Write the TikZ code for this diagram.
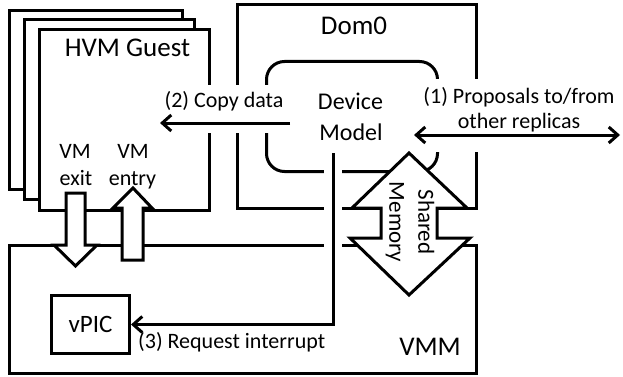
\documentclass[tikz,border=0pt]{standalone}
\usepackage{fontspec}
\setmainfont{Carlito}
\usetikzlibrary{arrows.meta}
\tikzset{
  bx/.style={draw, line width=3pt, fill=white, inner sep=0pt, anchor=north west},
  ln/.style={line width=3pt},
  barb/.style={-{Straight Barb[length=9pt,width=16pt]}},
  dbarb/.style={{Straight Barb[length=9pt,width=16pt]}-{Straight Barb[length=9pt,width=16pt]}},
  lbl/.style={font=\fontsize{22}{25}\selectfont, inner sep=0pt},
  ttl/.style={font=\fontsize{27}{30}\selectfont, inner sep=0pt, anchor=base},
  dmtxt/.style={font=\fontsize{24}{30}\selectfont, inner sep=0pt, anchor=base},
  blk/.style={draw, line width=3pt, fill=white, line join=miter},
}
\begin{document}
\begin{tikzpicture}[x=1pt,y=-1pt]
\useasboundingbox (0,0) rectangle (623,377);
% guest stack
\node[bx, minimum width=173pt, minimum height=179pt] (g1) at (8,9) {};
\node[bx, minimum width=170pt, minimum height=180pt] (g2) at (23,18) {};
\node[bx, minimum width=170pt, minimum height=181pt] (g3) at (38,28) {};
% Dom0, device model, VMM
\node[bx, minimum width=239pt, minimum height=204pt] (dom0) at (236,3) {};
\node[bx, rounded corners=18pt, minimum width=171pt, minimum height=110pt] (dm) at (265,60) {};
\node[bx, minimum width=467pt, minimum height=128pt] (vmm) at (8,244) {};
% labels with white backgrounds
\node[lbl, fill=white, anchor=base, inner xsep=6pt] (cdlbl) at (224,108)
  {\rule[-25pt]{0pt}{48pt}(2) Copy data};
\node[lbl, fill=white, anchor=north, align=center, inner xsep=4pt] (prlbl) at (519,79)
  {\rule{0pt}{24pt}(1) Proposals to/from\\other replicas\rule[-24pt]{0pt}{24pt}};
% copy data and proposals arrows
\coordinate (cdA) at (290,123);
\coordinate (cdB) at (160,123);
\draw[ln, barb] (cdA) -- (cdB);
\coordinate (prA) at (414,135);
\coordinate (prB) at (620,135);
\draw[ln, dbarb] (prA) -- (prB);
% vPIC and interrupt line
\node[bx, minimum width=78pt, minimum height=58pt, font=\fontsize{25}{28}\selectfont] (vpic) at (50,294) {vPIC};
\coordinate (irqtop) at (333,153);
\draw[white, line width=18pt] (irqtop) -- (irqtop |- vpic.east);
\draw[ln, barb] (irqtop) |- (vpic.east);
% VM exit / entry block arrows
\draw[blk] (66,193) -- (85,193) -- (85,245) -- (97,245) -- (75.5,266) -- (54,245) -- (66,245) -- cycle;
\draw[blk] (122,260) -- (143,260) -- (143,208) -- (152,208) -- (133,188) -- (113,208) -- (122,208) -- cycle;
% shared memory double block arrow
\draw[blk] (409,153) -- (467,208) -- (437,208) -- (437,238) -- (470,238) -- (409,295)
  -- (350,238) -- (381,238) -- (381,208) -- (352,208) -- cycle;
\node[font=\fontsize{23}{29}\selectfont, rotate=-90, align=center, inner sep=0pt] (shm) at (410,222) {Shared\\Memory};
% texts
\node[ttl] (hvmt) at (127.5,57) {HVM Guest};
\node[ttl] (dom0t) at (354,35) {Dom0};
\node[dmtxt] (devt) at (350.5,110) {Device};
\node[dmtxt] (modt) at (351,140) {Model};
\node[lbl, anchor=base] (vm1) at (75,158) {VM};
\node[lbl, anchor=base] (ext) at (76,185) {exit};
\node[lbl, anchor=base] (vm2) at (133,158) {VM};
\node[lbl, anchor=base] (ent) at (132.5,185) {entry};
\node[lbl, anchor=base west] (irqt) at (138,348) {(3) Request interrupt};
\node[ttl] (vmmt) at (430,355) {VMM};
\end{tikzpicture}
\end{document}
